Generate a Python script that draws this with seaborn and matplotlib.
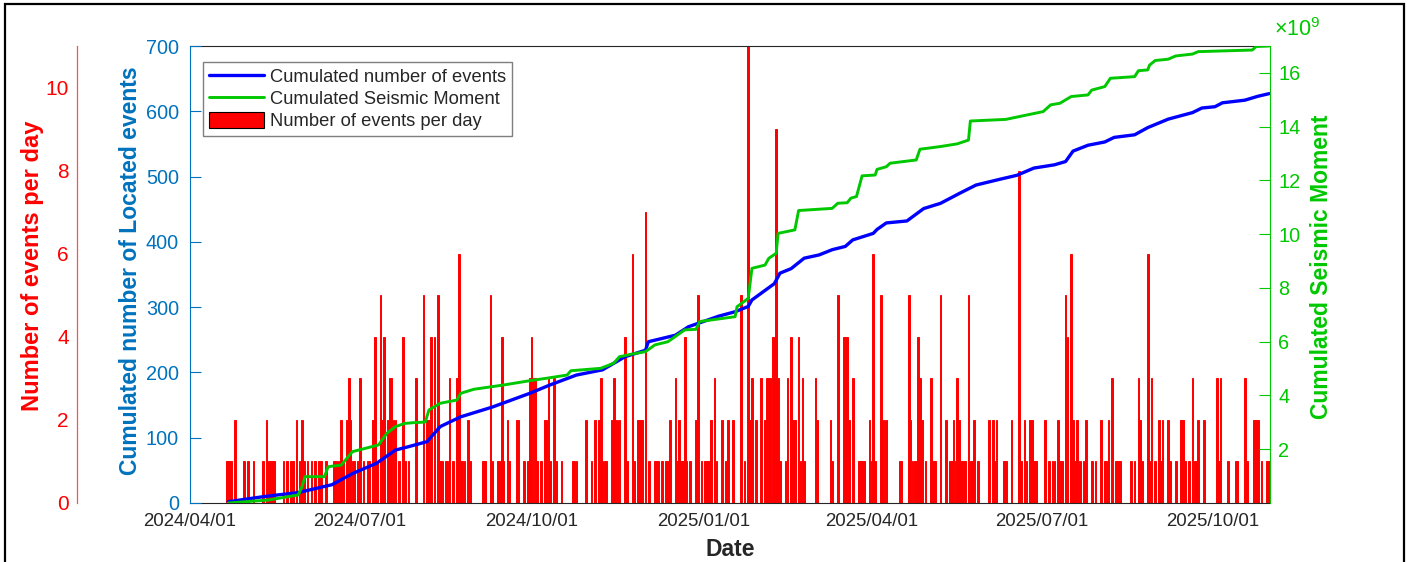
import numpy as np
import pandas as pd
import matplotlib
matplotlib.use("Agg")
import matplotlib.pyplot as plt
import matplotlib.dates as mdates
from matplotlib.patches import Rectangle, Patch
from matplotlib.lines import Line2D
import seaborn as sns

# ---------------- data ----------------
START = "2024-04-01"          # day 0 of the day offsets below
X_END = "2025-10-31 12:00"
x_tick_dates = ["2024-04-01", "2024-07-01", "2024-10-01", "2025-01-01",
                "2025-04-01", "2025-07-01", "2025-10-01"]

# number of events per day (day offset since START, count)
bar_day = [20, 21, 22, 24, 29, 31, 34, 39, 41, 42, 43, 44, 45, 50, 52, 54, 55, 57, 59, 60,
           61, 63, 65, 67, 69, 70, 73, 77, 78, 79, 80, 81, 82, 84, 85, 86, 87, 88, 90, 91,
           93, 95, 96, 98, 99, 100, 102, 103, 104, 106, 107, 108, 109, 110, 112, 114, 115, 117,
           121, 125, 127, 128, 129, 131, 133, 134, 135, 137, 138, 139, 141, 143, 144, 145, 146,
           147, 149, 150, 157, 158, 161, 162, 165, 166, 167, 168, 170, 171, 175, 176, 179, 181,
           182, 183, 184, 185, 186, 188, 190, 191, 192, 193, 195, 196, 199, 205, 206, 207, 212,
           215, 217, 219, 220, 221, 222, 223, 226, 227, 228, 229, 230, 233,
           234, 237, 238, 240, 241, 242, 244, 246, 249, 250, 251, 253, 255, 256, 257, 260, 261,
           262, 263, 264, 265, 266, 268, 271, 272, 274, 276, 277, 278, 279, 281, 282, 285, 287,
           288, 291, 295, 297, 299, 300, 301, 303, 306, 308, 309, 310, 311, 312, 313, 314, 315,
           316, 319, 320, 322, 323, 324, 326, 327, 328, 329, 335, 336, 343, 344, 347, 350,
           351, 352, 353, 355, 358, 359, 360, 361, 364, 365, 366, 367, 370, 371, 372, 373, 380,
           381, 385, 386, 387, 388, 389, 390, 391, 392, 394, 397, 398, 399, 402, 405, 407, 408,
           409, 410, 411, 412, 413, 414, 415, 417, 418, 419, 420, 422, 428, 430, 431, 432, 436,
           437, 440, 444, 445, 447, 448, 450, 451, 452, 453, 458, 460, 462,
           463, 465, 466, 467, 469, 470, 472, 473, 474, 475, 476, 477, 479, 480, 483, 485, 488,
           490, 491, 492, 494, 496, 497, 498, 504, 506, 508, 509, 510, 513, 514, 515, 517, 519,
           520, 521, 524, 525, 528, 531, 532, 533, 535, 537, 538, 539, 540, 543, 550, 551, 552,
           556, 560, 561, 565, 566, 570, 571, 572, 574, 577, 578]
bar_count = [1, 1, 1, 2, 1, 1, 1, 1, 2, 1, 1, 1, 1, 1, 1, 1, 1, 2, 1, 2,
             1, 1, 1, 1, 1, 1, 1, 1, 1, 1, 1, 2, 1, 2, 3, 2, 1, 1, 1, 3,
             1, 1, 1, 2, 4, 1, 5, 2, 4, 2, 3, 3, 2, 2, 1, 4, 1, 1,
             3, 5, 2, 2, 4, 4, 5, 1, 1, 1, 1, 3, 1, 3, 6, 1, 1,
             1, 2, 1, 1, 1, 5, 1, 1, 1, 4, 1, 2, 1, 2, 2, 1, 1,
             3, 4, 3, 3, 1, 1, 2, 2, 3, 1, 3, 1, 1, 1, 1, 1, 2,
             1, 2, 2, 3, 1, 1, 1, 2, 3, 2, 2, 2, 4,
             1, 6, 1, 2, 2, 2, 7, 1, 1, 1, 1, 1, 1, 1, 2, 3, 1,
             2, 1, 1, 4, 1, 1, 2, 5, 1, 1, 1, 1, 2, 3, 1, 2, 1,
             2, 2, 5, 1, 11, 2, 3, 2, 3, 2, 3, 3, 3, 4, 4, 9, 3,
             1, 1, 3, 4, 2, 2, 4, 1, 3, 1, 3, 2, 2, 1, 5, 4,
             4, 4, 2, 3, 1, 1, 1, 1, 2, 1, 6, 1, 5, 2, 2, 2, 1,
             1, 5, 2, 1, 1, 1, 4, 3, 2, 1, 3, 1, 1, 5, 2, 1, 1,
             2, 1, 3, 2, 1, 1, 1, 5, 1, 1, 2, 1, 2, 2, 1, 2, 1,
             1, 2, 8, 1, 2, 1, 2, 2, 1, 1, 2, 1, 1,
             1, 2, 1, 1, 5, 4, 6, 2, 1, 2, 1, 1, 1, 2, 1, 1, 2,
             1, 1, 2, 3, 1, 1, 1, 1, 1, 3, 2, 1, 6, 1, 3, 1, 2,
             1, 2, 2, 1, 1, 2, 2, 1, 1, 3, 1, 1, 2, 2, 3, 1, 3,
             1, 1, 1, 3, 1, 2, 2, 2, 1, 1, 1]

# cumulated number of located events
blue_day = [20.5, 40, 58, 76, 87, 100, 110, 118, 127, 134, 145, 162, 182, 193, 207, 221,
            227, 233, 244, 245.5, 260, 267, 283, 292, 299, 301, 313, 316, 322, 329, 337,
            344, 351, 355, 366, 368, 373, 384, 393, 402, 412, 421, 434, 443, 452, 463,
            469, 473, 481, 490, 495, 506, 513, 524, 537, 542, 549, 553, 565, 572, 578]
blue_count = [2, 10, 16, 28, 45, 61, 81, 87, 94, 117, 132, 147, 168, 181, 196, 204,
              214, 224, 234, 247, 257, 270, 286, 293, 301, 311, 336, 352, 359, 375, 380,
              388, 393, 403, 413, 419, 429, 432, 451, 459, 474, 487, 496, 502, 513, 518,
              523, 539, 548, 553, 560, 564, 575, 588, 598, 605, 607, 613, 617, 623, 627]

# cumulated seismic moment (units of 1e9)
green_day = [20.5, 42, 58, 60, 61.6, 72, 74, 81, 87, 101, 105.4, 110, 115, 120,
             126, 128, 134, 143, 145, 152, 168, 182, 191, 202, 204, 220, 227, 230, 236,
             244, 249, 256, 265, 271, 273, 292, 293, 299, 301, 308, 310, 314, 315, 324,
             326, 344, 347, 352, 354, 357, 360, 367, 368, 373, 375, 389, 391, 402, 411,
             417, 418, 437, 448, 457, 461, 466, 472, 481, 483, 490, 493, 506, 508, 513,
             514, 517, 524, 528, 537, 540, 569, 571, 578]
green_moment_e9 = [0.0, 0.11, 0.30, 0.61, 0.98, 0.98, 1.35, 1.41, 1.91, 2.16, 2.59, 2.84,
                   2.96, 2.99, 3.01, 3.46, 3.71, 3.83, 4.08, 4.23, 4.39, 4.55, 4.64, 4.76,
                   4.92, 5.01, 5.20, 5.44, 5.53, 5.63, 5.88, 6.00, 6.44, 6.46, 6.75, 6.93,
                   7.30, 7.61, 8.73, 8.85, 9.10, 9.29, 10.03, 10.16, 10.88, 10.96, 11.15,
                   11.17, 11.34, 11.40, 12.17, 12.20, 12.41, 12.51, 12.64, 12.76, 13.16,
                   13.26, 13.36, 13.50, 14.21, 14.27, 14.43, 14.56, 14.81, 14.87, 15.12,
                   15.18, 15.36, 15.49, 15.80, 15.86, 16.08, 16.11, 16.29, 16.46, 16.51,
                   16.63, 16.70, 16.79, 16.85, 16.98, 17.00]

red_ticks = [0, 2, 4, 6, 8, 10]
blue_ticks = [0, 100, 200, 300, 400, 500, 600, 700]
green_ticks = [2, 4, 6, 8, 10, 12, 14, 16]

# ---------------- style ----------------
RED = "#FF0000"
BLUE_AX = "#0072BD"
BLUE_LN = "#0000FF"
GREEN = "#00C800"
DARK = "#262626"
LABEL_FS = 16.5
TICK_FS = 13.4

sns.set_style("white")
plt.rcParams["font.family"] = ["Liberation Sans", "DejaVu Sans"]
plt.rcParams["mathtext.fontset"] = "custom"
plt.rcParams["mathtext.rm"] = "Liberation Sans"

W, H = 1409, 562
fig = plt.figure(figsize=(W / 100, H / 100), dpi=100)
fig.patch.set_facecolor("white")

# outer frame (bottom edge falls just outside the picture, as in the reference)
fig.patches.append(Rectangle((5 / W, -3 / H), 1399 / W, 561 / H, transform=fig.transFigure,
                             fill=False, edgecolor="black", linewidth=1.6))

L, R, T, B = 190, 1270, 46, 503
ax_red = fig.add_axes([L / W, (H - B) / H, (R - L) / W, (B - T) / H])
ax_blue = ax_red.twinx()
ax_green = ax_red.twinx()

base = pd.Timestamp(START)
bar_dates = base + pd.to_timedelta(bar_day, unit="D")
blue_df = pd.DataFrame({"date": base + pd.to_timedelta(blue_day, unit="D"), "n": blue_count})
green_df = pd.DataFrame({"date": base + pd.to_timedelta(green_day, unit="D"), "m": green_moment_e9})

# red bars (bottom layer)
ax_red.bar(bar_dates, bar_count, width=0.9, color=RED, edgecolor=RED, linewidth=0.7)
# lines
sns.lineplot(data=blue_df, x="date", y="n", ax=ax_blue, color=BLUE_LN, linewidth=2.4,
             estimator=None, sort=False)
sns.lineplot(data=green_df, x="date", y="m", ax=ax_green, color=GREEN, linewidth=2.1,
             estimator=None, sort=False)

# x axis
ax_red.set_xlim(base, pd.Timestamp(X_END))
ax_red.set_xticks(pd.to_datetime(x_tick_dates))
ax_red.xaxis.set_major_formatter(mdates.DateFormatter("%Y/%m/%d"))
ax_red.tick_params(axis="x", direction="in", length=8, width=0.8, color="#555555",
                   labelcolor=DARK, labelsize=TICK_FS, pad=7)
ax_red.set_xlabel("Date", fontsize=LABEL_FS, fontweight="bold", color=DARK, labelpad=6)

# red axis
ax_red.set_ylim(0, 11)
ax_red.set_yticks(red_ticks)
ax_red.yaxis.set_ticks_position("left")
ax_red.spines["left"].set_position(("axes", (77 - L) / (R - L)))
ax_red.spines["left"].set_color("#FF5050")
ax_red.spines["left"].set_linewidth(0.9)
ax_red.spines["right"].set_visible(False)
for s in ("top", "bottom"):
    ax_red.spines[s].set_color(DARK)
    ax_red.spines[s].set_linewidth(0.8)
ax_red.tick_params(axis="y", colors=RED, length=0, labelsize=15, pad=6)
ax_red.set_ylabel("Number of events per day", color=RED, fontsize=17, fontweight="bold")
ax_red.yaxis.set_label_coords((44 - L) / (R - L), 0.52)

# blue axis
ax_blue.set_ylim(0, 700)
ax_blue.set_yticks(blue_ticks)
ax_blue.yaxis.tick_left()
ax_blue.yaxis.set_label_position("left")
for s in ("top", "bottom", "right"):
    ax_blue.spines[s].set_visible(False)
ax_blue.spines["left"].set_visible(True)
ax_blue.spines["left"].set_color(BLUE_AX)
ax_blue.spines["left"].set_linewidth(0.8)
ax_blue.tick_params(axis="y", direction="in", length=8, width=0.8, colors=BLUE_AX,
                    labelsize=14.3, pad=8)
ax_blue.set_ylabel("Cumulated number of Located events", color=BLUE_AX, fontsize=LABEL_FS,
                   fontweight="bold")
ax_blue.yaxis.set_label_coords((142 - L) / (R - L), 0.508)

# green axis
ax_green.set_ylim(0, 17.0)
ax_green.set_yticks(green_ticks)
for s in ("top", "bottom", "left"):
    ax_green.spines[s].set_visible(False)
ax_green.spines["right"].set_color(GREEN)
ax_green.spines["right"].set_linewidth(0.8)
ax_green.tick_params(axis="y", direction="in", length=8, width=0.8, colors=GREEN,
                     labelsize=14.3, pad=6)
ax_green.set_ylabel("Cumulated Seismic Moment", color=GREEN, fontsize=LABEL_FS, fontweight="bold")
ax_green.yaxis.set_label_coords((1310 - L) / (R - L), 0.517)
ax_green.text(1.004, 1.022, r"$\times10^{9}$", transform=ax_green.transAxes, color=GREEN,
              fontsize=15.5, ha="left", va="baseline")

# legend
handles = [Line2D([], [], color=BLUE_LN, linewidth=2.4),
           Line2D([], [], color=GREEN, linewidth=2.1),
           Patch(facecolor=RED, edgecolor="black", linewidth=0.8)]
labels = ["Cumulated number of events", "Cumulated Seismic Moment", "Number of events per day"]
leg = ax_green.legend(handles, labels, loc="upper left",
                      bbox_to_anchor=((203 - L) / (R - L), (B - 62) / (B - T)),
                      borderaxespad=0, fontsize=13.2, frameon=True, fancybox=False,
                      framealpha=1, edgecolor="#7f7f7f", handlelength=3.0,
                      handleheight=0.95, handletextpad=0.35, labelspacing=0.22,
                      borderpad=0.3)
leg.get_frame().set_linewidth(1.0)

fig.savefig("out.png", dpi=100, facecolor="white")
